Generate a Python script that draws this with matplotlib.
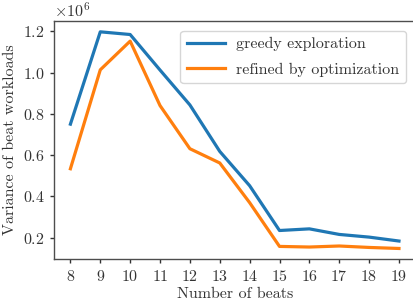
import matplotlib
matplotlib.use('Agg')
import matplotlib.pyplot as plt

plt.rcParams['font.family'] = 'serif'
plt.rcParams['font.serif'] = ['cmr10', 'DejaVu Serif']
plt.rcParams['mathtext.fontset'] = 'cm'
plt.rcParams['axes.formatter.use_mathtext'] = True
plt.rcParams['axes.unicode_minus'] = False

beats = [8, 9, 10, 11, 12, 13, 14, 15, 16, 17, 18, 19]
greedy = [0.750e6, 1.197e6, 1.184e6, 1.012e6, 0.843e6, 0.618e6, 0.452e6,
          0.235e6, 0.243e6, 0.216e6, 0.203e6, 0.184e6]
refined = [0.534e6, 1.013e6, 1.152e6, 0.840e6, 0.631e6, 0.562e6, 0.370e6,
           0.158e6, 0.155e6, 0.160e6, 0.153e6, 0.148e6]

fig = plt.figure(figsize=(4.14, 3.03), dpi=100)
ax = fig.add_axes([0.1304, 0.1442, 0.873, 0.7865])

ax.plot(beats, greedy, color='#1f77b4', lw=2.3, label='greedy exploration')
ax.plot(beats, refined, color='#ff7f0e', lw=2.3, label='refined by optimization')

ax.set_xticks(beats)
ax.set_xlabel('Number of beats', fontsize=11.5, color='0.2', labelpad=3)
ax.set_ylabel('Variance of beat workloads', fontsize=11.5, color='0.2', labelpad=4)
ax.tick_params(labelsize=11.5, colors='0.2', length=3.2, width=1)
ax.spines['right'].set_visible(False)
for s in ['left', 'bottom', 'top']:
    ax.spines[s].set_color('0.3')
    ax.spines[s].set_linewidth(1)
ax.yaxis.get_offset_text().set_fontsize(11.5)
ax.yaxis.get_offset_text().set_color('0.2')

ax.legend(loc='upper right', fontsize=11.5, labelcolor='0.2', borderaxespad=0.6,
          handlelength=2.4, labelspacing=0.7, handletextpad=0.7)

fig.savefig('out.png', dpi=100)
